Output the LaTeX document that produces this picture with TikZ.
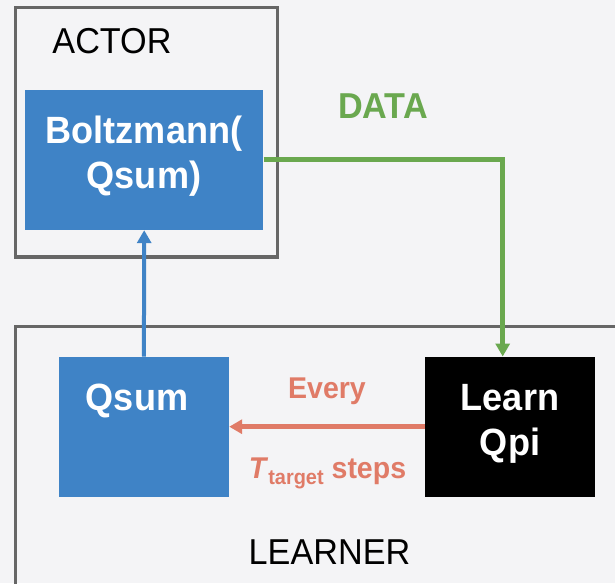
\documentclass[tikz,border=0pt]{standalone}
\usepackage{fontspec}
\setmainfont{Liberation Sans}[FakeStretch=0.95]
\usetikzlibrary{arrows.meta}
\definecolor{bg}{HTML}{F4F4F6}
\definecolor{frame}{HTML}{666666}
\definecolor{boxblue}{HTML}{3F83C6}
\definecolor{dgreen}{HTML}{6AA84F}
\definecolor{salmon}{HTML}{E07B67}
\begin{document}
\begin{tikzpicture}[x=1pt,y=-1pt,
  group/.style={draw=frame,line width=3.5pt},
  bluebox/.style={fill=boxblue,draw=none,minimum width=239pt,minimum height=140pt,inner sep=0pt},
  blackbox/.style={fill=black,draw=none,minimum width=170pt,minimum height=140pt,inner sep=0pt},
  btxt/.style={text=white,font=\fontsize{38}{45}\selectfont\bfseries,align=center},
  lbl/.style={font=\fontsize{36}{40}\selectfont,text=black},
  tip/.style={-{Triangle[length=13pt,width=14pt]}}
]
\useasboundingbox (0,0) rectangle (615,583);
\fill[bg] (0,0) rectangle (615,583);
% group frames
\draw[group] (15.7,7.3) rectangle (277.6,257);
\draw[group] (640,326.7) -- (15.7,326.7) -- (15.7,600);
\node[lbl] (actor) at (112,41) {ACTOR};
\node[lbl] (learner) at (329.5,552) {LEARNER};
% boxes
\node[bluebox,minimum width=238.5pt] (boltz) at (144.2,160) {};
\node[btxt] (boltzt) at (144,156) {Boltzmann(\\Qsum)};
\node[bluebox,minimum width=170.2pt] (qsum) at (143.9,426.7) {};
\node[btxt] (qsumt) at (137,401) {Qsum};
\node[blackbox] (learn) at (510.2,426.7) {};
\node[btxt] (learnt) at (510,424) {Learn\\Qpi};
% connectors
\coordinate (corner) at (502.7,159.5);
\draw[dgreen,line width=5.5pt,tip] (boltz.east |- 0,159.5) -- (corner) -- (corner |- learn.north);
\node[text=dgreen,font=\fontsize{36}{40}\selectfont\bfseries] (data) at (383,106) {DATA};
\draw[boxblue,line width=4pt,tip] (qsum.north) -- (boltz.south);
\draw[salmon,line width=4.5pt,tip] (learn.west) -- (qsum.east);
\node[text=salmon,font=\fontsize{30}{34}\selectfont\bfseries] (every) at (327,391) {Every};
\node[text=salmon,font=\fontsize{30}{34}\selectfont\bfseries,anchor=base] (steps) at (327.5,478) {\textit{T}\raisebox{-6pt}{\fontsize{21}{24}\selectfont target} steps};
\end{tikzpicture}
\end{document}
